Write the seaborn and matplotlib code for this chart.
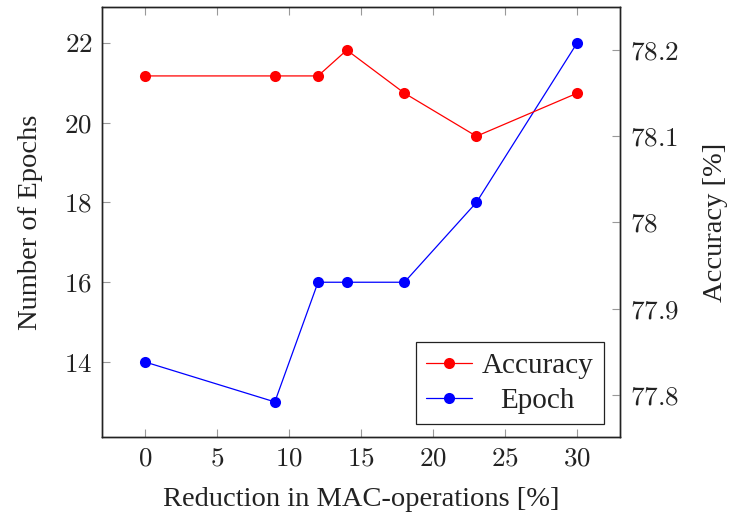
import matplotlib
matplotlib.use("Agg")
import matplotlib.pyplot as plt
import seaborn as sns
import pandas as pd
from matplotlib.ticker import FuncFormatter, FixedLocator
from matplotlib.transforms import Affine2D

# Data
reduction = [0, 9, 12, 14, 18, 23, 30]
accuracy = [78.17, 78.17, 78.17, 78.20, 78.15, 78.10, 78.15]
epochs = [14, 13, 16, 16, 16, 18, 22]

x_ticks = [0, 5, 10, 15, 20, 25, 30]
epoch_ticks = [14, 16, 18, 20, 22]
acc_ticks = [77.8, 77.9, 78.0, 78.1, 78.2]

df = pd.DataFrame({"reduction": reduction, "accuracy": accuracy, "epochs": epochs})

sns.set_theme(style="white")
plt.rcParams["font.family"] = ["Liberation Serif", "DejaVu Serif"]
plt.rcParams["mathtext.fontset"] = "cm"

fs_tick = 19.5
fs_label = 20.5
fig, ax = plt.subplots(figsize=(7.29, 5.17), dpi=100)
fig.subplots_adjust(left=0.140, right=0.851, top=0.9865, bottom=0.1547)
ax2 = ax.twinx()

sns.lineplot(data=df, x="reduction", y="epochs", ax=ax, color="#0000ff",
             marker="o", markersize=8, markeredgewidth=0, linewidth=0.9,
             label="Epoch", legend=False)
sns.lineplot(data=df, x="reduction", y="accuracy", ax=ax2, color="#ff0000",
             marker="o", markersize=8, markeredgewidth=0, linewidth=0.9,
             label="Accuracy", legend=False)

ax.set_xlim(-3, 33)
ax.set_ylim(12.12, 22.9)
ax2.set_ylim(77.751, 78.25)

math_fmt = FuncFormatter(lambda v, p: f"${v:g}$")
ax.xaxis.set_major_locator(FixedLocator(x_ticks))
ax.yaxis.set_major_locator(FixedLocator(epoch_ticks))
ax2.yaxis.set_major_locator(FixedLocator(acc_ticks))
for a in (ax.xaxis, ax.yaxis, ax2.yaxis):
    a.set_major_formatter(math_fmt)

tick_kw = dict(direction="in", length=6, width=0.8, color="#999999",
               labelsize=fs_tick, labelcolor="#222222", pad=7)
ax.tick_params(axis="x", bottom=True, top=True, **tick_kw)
ax.tick_params(axis="y", left=True, right=False, **tick_kw)
ax2.tick_params(axis="y", right=True, left=False, **tick_kw)

for a in (ax, ax2):
    for s in a.spines.values():
        s.set_color("#222222")
        s.set_linewidth(1.0)

ax.set_xlabel("Reduction in MAC-operations [%]", fontsize=fs_label, color="#222222", labelpad=11)
ax.set_ylabel("Number of Epochs", fontsize=fs_label, color="#222222", labelpad=15)
ax2.set_ylabel("Accuracy [%]", fontsize=fs_label, color="#222222", labelpad=17)

h1, l1 = ax2.get_legend_handles_labels()
h0, l0 = ax.get_legend_handles_labels()
leg = ax2.legend(h1 + h0, l1 + l0, loc="lower right", bbox_to_anchor=(0.968, 0.030),
                 borderaxespad=0, fontsize=21, frameon=True, fancybox=False,
                 edgecolor="#222222", framealpha=1, handlelength=1.55,
                 handletextpad=0.35, borderpad=0.35, labelspacing=0.3)
leg.get_frame().set_linewidth(0.9)
texts = leg.get_texts()
for t in texts:
    t.set_color("#222222")

# centre the shorter legend entry under the longer one
fig.canvas.draw()
w0 = texts[0].get_window_extent().width
w1 = texts[1].get_window_extent().width
texts[1].set_transform(texts[1].get_transform() + Affine2D().translate((w0 - w1) / 2, 0))

fig.savefig("out.png", dpi=100)
